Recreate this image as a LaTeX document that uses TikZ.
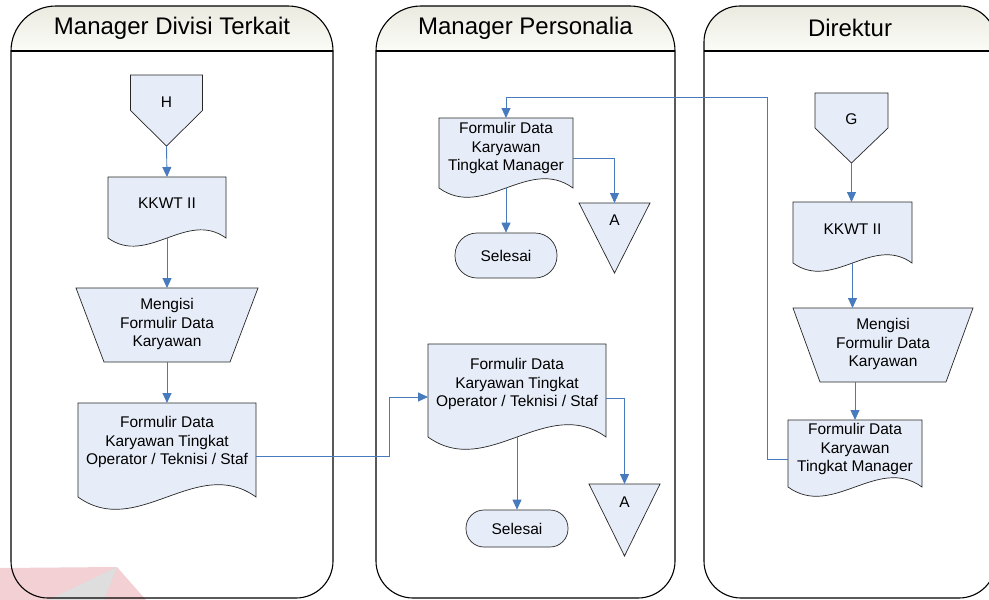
\documentclass[tikz,border=0pt]{standalone}
\usepackage{fontspec}
\setmainfont{Liberation Sans}
\usetikzlibrary{calc,backgrounds,arrows.meta}
\definecolor{flowblue}{RGB}{72,122,190}
\definecolor{shapefill}{RGB}{231,237,248}
\definecolor{headtop}{RGB}{234,234,224}
\definecolor{headbot}{RGB}{252,252,248}
\definecolor{markpink}{RGB}{242,208,212}
\definecolor{markgrey}{RGB}{222,222,222}
\tikzset{>={Triangle[length=10pt,width=9pt]}}
\tikzset{
  laneline/.style={draw=black, line width=1.1pt},
  shapeline/.style={draw=black!85, fill=shapefill, line width=0.7pt},
  boxsize/.style 2 args={minimum width=#1, minimum height=#2, inner sep=0pt, outer sep=0pt},
  txt/.style={font=\fontsize{15.5}{18.8}\selectfont, align=center, text=black},
  flow/.style={draw=flowblue, line width=0.9pt, ->},
  endbox/.style n args={3}{draw=black!85, fill=shapefill, line width=0.7pt,
    rounded corners=#3, minimum width=#1, minimum height=#2, inner sep=0pt, txt},
}
% outlines drawn from the anchors of an empty node
\newcommand\docshape[2]{\path[shapeline] (#1.south west) |- (#1.north east) -- (#1.south east)
  .. controls +(-#2/3,-0.24*#2) and +(#2/3,0.24*#2) .. (#1.south west) -- cycle;}
\newcommand\offpage[1]{\path[shapeline] (#1.north west) -- (#1.north east)
  -- ($(#1.north east)!0.5!(#1.south east)$) -- (#1.south)
  -- ($(#1.north west)!0.5!(#1.south west)$) -- cycle;}
\newcommand\manualop[2]{\path[shapeline] (#1.north west) -- (#1.north east)
  -- ([xshift=-#2pt]#1.south east) -- ([xshift=#2pt]#1.south west) -- cycle;}
\newcommand\offtri[1]{\path[shapeline] (#1.north west) -- (#1.north east) -- (#1.south) -- cycle;}

\begin{document}
\begin{tikzpicture}[x=1pt,y=-1pt]
    \useasboundingbox (0,0) rectangle (989,600);
    % lanes
    \foreach \xa/\xb/\rad/\name in {11/333/45/{Manager Divisi Terkait},376/675/45/{Manager Personalia},704/996/36/{Direktur}} {
        \shade[top color=headtop, bottom color=headbot, rounded corners=\rad] (\xa,51) -- (\xa,6) -- (\xb,6) -- (\xb,51);
        \draw[laneline, rounded corners=\rad] (\xa,51) -- (\xa,6) -- (\xb,6) -- (\xb,51);
        \draw[laneline, rounded corners=37] (\xa,51) -- (\xa,598) -- (\xb,598) -- (\xb,51);
        \draw[laneline] (\xa,51) -- (\xb,51);
        \node[font=\fontsize{24}{28}\selectfont] (lane\xa) at ({(\xa+\xb)/2},28) {\name};
    }

    % Manager Divisi Terkait
    \node[boxsize={72}{71}, label={[txt,yshift=8.5pt]center:H}] (H) at (166.5,110.5) {};
    \node[boxsize={118}{61}, label={[txt,yshift=4.5pt]center:KKWT II}] (K1) at (167,207.5) {};
    \node[boxsize={182}{74}, label={[txt,yshift=1pt]center:{Mengisi\\Formulir Data\\Karyawan}}] (M1) at (167,325) {};
    \node[boxsize={178}{94}, label={[txt,yshift=8pt]center:{Formulir Data\\Karyawan Tingkat\\Operator / Teknisi / Staf}}] (F1) at (167,450) {};

    % Manager Personalia
    \node[boxsize={134}{70}, label={[txt,yshift=5pt]center:{Formulir Data\\Karyawan\\Tingkat Manager}}] (F3) at (506,153) {};
    \node[boxsize={71}{70}, label={[txt,yshift=18pt]center:A}] (A1) at (614.5,238) {};
    \node[endbox={102}{45}{22}] (S1) at (506,255.5) {Selesai};
    \node[boxsize={178}{93}, label={[txt,yshift=6.5pt]center:{Formulir Data\\Karyawan Tingkat\\Operator / Teknisi / Staf}}] (F2) at (517,390.5) {};
    \node[boxsize={71}{72}, label={[txt,yshift=18pt]center:A}] (A2) at (624.5,520) {};
    \node[endbox={102}{37}{18}] (S2) at (517,528.5) {Selesai};

    % Direktur
    \node[boxsize={73}{70}, label={[txt,yshift=9pt]center:G}] (G) at (851.5,128) {};
    \node[boxsize={119}{61}, label={[txt,yshift=3.5pt]center:KKWT II}] (K2) at (852.5,232.5) {};
    \node[boxsize={180}{74}, label={[txt,yshift=1pt]center:{Mengisi\\Formulir Data\\Karyawan}}] (M2) at (883,345) {};
    \node[boxsize={134}{67}, label={[txt,yshift=4.5pt]center:{Formulir Data\\Karyawan\\Tingkat Manager}}] (F4) at (855,453.5) {};

    \coordinate (bendA) at (389,397);
    \coordinate (bendB) at (767,97);

    \begin{scope}[on background layer]
        \fill[markpink] (0,568) -- (117,567) -- (146,600) -- (0,600) -- cycle;
        \fill[markgrey] (117,567) -- (48,600) -- (104,600) -- cycle;
        \offpage{H}
        \docshape{K1}{118}
        \manualop{M1}{28}
        \docshape{F1}{178}
        \docshape{F3}{134}
        \offtri{A1}
        \docshape{F2}{178}
        \offtri{A2}
        \offpage{G}
        \docshape{K2}{119}
        \manualop{M2}{27}
        \docshape{F4}{134}
    \end{scope}

    % connectors
    \draw[flow] (H.south) -- (K1.north);
    \draw[flow] (K1.south) -- (M1.north);
    \draw[flow] (M1.south) -- (F1.north);
    \draw[flow] ([yshift=-6pt]F1.east) -| (bendA) -- ([yshift=-6.5pt]F2.west);
    \draw[flow] ([yshift=-5pt]F3.east) -| (A1.north);
    \draw[flow] (F3.south) -- (S1.north);
    \draw[flow] ([yshift=-7.5pt]F2.east) -| (A2.north);
    \draw[flow] (F2.south) -- (S2.north);
    \draw[flow] (G.south) -- (G.south |- K2.north);
    \draw[flow] (K2.south) -- (K2.south |- M2.north);
    \draw[flow] (F4.north |- M2.south) -- (F4.north);
    \draw[flow] ([yshift=-5.5pt]F4.west) -| (bendB) -| (F3.north);
\end{tikzpicture}
\end{document}
